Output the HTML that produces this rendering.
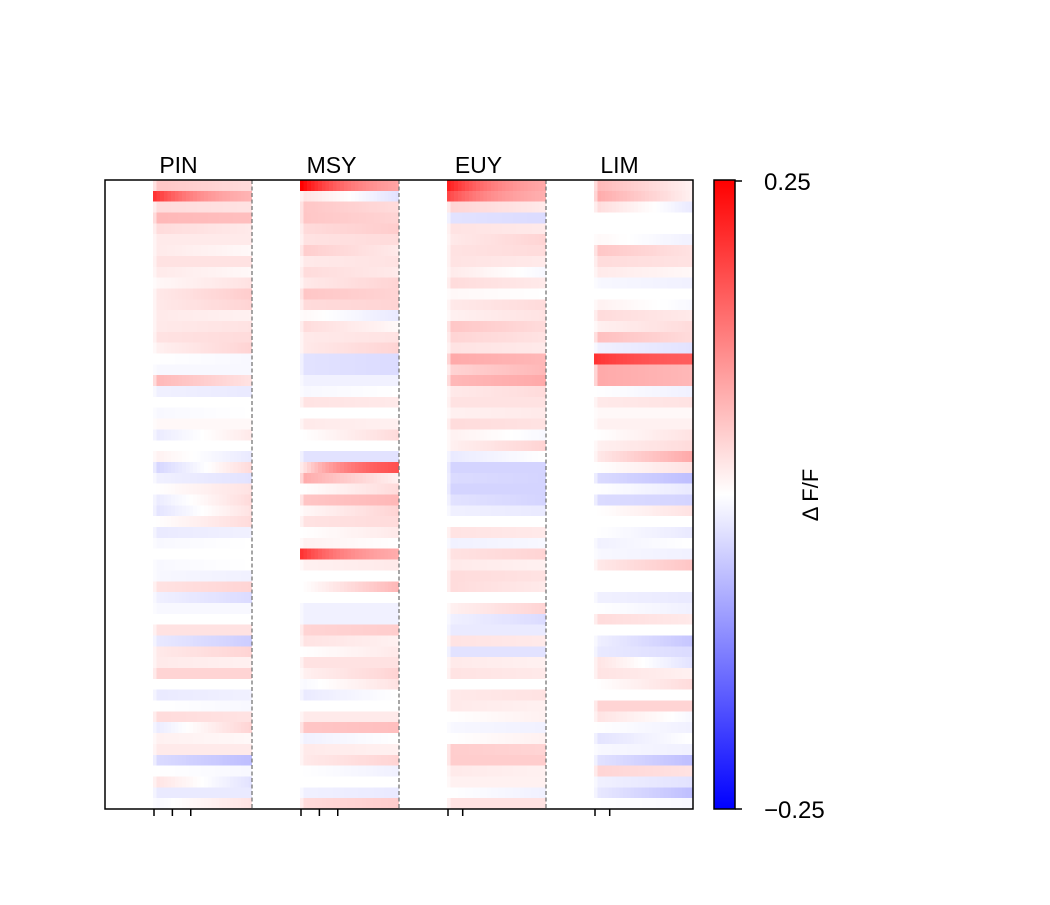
<!DOCTYPE html>
<html><head><meta charset="utf-8"><style>
body{margin:0;background:#fff;}
svg text{font-family:"Liberation Sans",Arial,sans-serif;}
</style></head><body>
<svg id="chart" width="1050" height="900" viewBox="0 0 1050 900">
<defs>
<linearGradient id="cbar" x1="0" y1="1" x2="0" y2="0">
<stop offset="0" stop-color="#0000ff"/><stop offset="0.5" stop-color="#ffffff"/><stop offset="1" stop-color="#ff0000"/>
</linearGradient>
</defs>
<g id="cells" shape-rendering="crispEdges"></g>
<g id="overlay"></g>
<rect x="105" y="180" width="588" height="629" fill="none" stroke="#000" stroke-width="1.5"/>
<rect x="714" y="180" width="21" height="629" fill="url(#cbar)" stroke="#000" stroke-width="1.5"/>
<line x1="735" y1="181" x2="742" y2="181" stroke="#000" stroke-width="1.5"/>
<line x1="735" y1="809" x2="742" y2="809" stroke="#000" stroke-width="1.5"/>
<text x="764" y="190" font-size="24">0.25</text>
<text x="764" y="818" font-size="24">−0.25</text>
<text transform="translate(818,495) rotate(-90)" text-anchor="middle" font-size="22">Δ F/F</text>
</svg>
<script>
const panels = ["PIN","MSY","EUY","LIM"];
const titleOffsets = [0, 6, 6, 0];
const onsetTicks = [[0,5,10],[0,5,10],[0,4],[0,4]];
const rowsPIN = [[0.08,0.05],[0.2,0.05],[0.05,0.04],[0.1,0.09],[0.05,0.03],[0.03,0.03],[0.03,0.01],[0.04,0.04],[0.03,0.01],[0.01,0.04],[0.03,0.07],[0.03,0.06],[0.03,0.02],[0.03,0.04],[0.04,0.05],[0.02,0.06],[0,-0.01],[-0.01,-0.01],[0.1,0.04],[-0.02,-0.03],[0,0],[-0.01,0],[0.01,0.01],[-0.03,0.03],[0,0],[0.02,-0.03],[-0.06,0.05],[-0.02,-0.04],[0,0.04],[-0.03,0.05],[-0.04,0.04],[0,0.05],[-0.03,-0.02],[-0.01,0],[0,0],[-0.01,0],[-0.01,-0.02],[0.04,0.06],[-0.02,-0.05],[-0.01,-0.01],[0,0],[0.04,0.04],[-0.03,-0.07],[0.03,0.06],[0.03,0.02],[0.06,0.06],[0,0],[-0.03,-0.02],[0,-0.01],[0.05,0.04],[-0.03,0.06],[0.02,0.01],[0.03,0.03],[-0.05,-0.09],[0,-0.01],[0.04,-0.04],[-0.03,-0.03],[-0.01,0.04]];
const rowsMSY = [[0.25,0.06],[0.04,-0.04],[0.08,0.05],[0.08,0.06],[0.05,0.07],[0.04,0.05],[0.07,0.03],[0.03,0.04],[0.05,0.03],[0.03,0.06],[0.08,0.06],[0.05,0.06],[0.01,-0.03],[0.05,0.01],[0.03,0.04],[0.03,0.06],[-0.04,-0.05],[-0.04,-0.05],[-0.02,-0.02],[-0.01,0],[0.04,0.03],[0,0],[0.03,0.02],[0,0.05],[0,0],[-0.04,-0.04],[0.02,0.2],[0.12,0.02],[0,0.05],[0.08,0.1],[0.01,0.06],[0.04,0.05],[0,0.03],[0.02,0],[0.2,0.06],[0.02,0.03],[0,0],[0,0.1],[0,0],[-0.02,-0.02],[-0.02,-0.02],[0.06,0.07],[0.04,0.02],[0,0.03],[0.04,0.04],[0.02,0.06],[-0.01,0.04],[-0.03,0],[0,0],[0.03,0.03],[0.08,0.09],[-0.02,0],[0.03,0.02],[0.03,0.06],[0,-0.02],[0,0],[-0.02,-0.03],[0.05,0.07]];
const rowsEUY = [[0.22,0.06],[0.18,0.06],[0.06,0.03],[-0.04,-0.05],[0.04,0.03],[0.03,0.06],[0.04,0.05],[0.04,0.03],[0.03,-0.01],[0.05,0.03],[0.01,0],[0.03,0.05],[0.02,0.04],[0.08,0.05],[0.06,0.04],[0.04,0.03],[0.12,0.1],[0.06,0.1],[0.1,0.12],[0.03,0.05],[0.04,0.04],[0.02,0.03],[0.05,0.04],[0.02,-0.01],[0.02,0.06],[-0.03,0],[-0.06,-0.06],[-0.05,-0.06],[-0.06,-0.06],[-0.04,-0.06],[-0.02,-0.03],[0,0],[0.04,0.03],[-0.02,-0.01],[0.04,0.06],[0.03,0.02],[0.05,0.04],[0.05,0.03],[0,0],[0.02,0.06],[-0.02,-0.05],[-0.03,-0.03],[0.04,0.03],[-0.04,-0.04],[0.03,0.02],[0.04,0.03],[0,0],[0.03,0.04],[0.03,0.02],[0,0.02],[-0.01,-0.02],[0,0.02],[0.07,0.06],[0.07,0.07],[0.03,0.02],[0.02,0.02],[0,-0.02],[0.04,0.04]];
const rowsLIM = [[0.1,0.02],[0.12,0.02],[0.05,-0.03],[0,0],[0,0],[0.01,-0.02],[0.08,0.04],[0.05,0.04],[0.03,0.01],[-0.01,-0.02],[0,0],[0.02,-0.01],[0.05,0.03],[0.02,0.05],[0.09,0.05],[-0.02,-0.04],[0.2,0.15],[0.12,0.1],[0.12,0.1],[0,-0.02],[0.03,0.04],[0.01,0.01],[0.02,0.02],[0,0.04],[0.02,0.05],[0.03,0.12],[0,0.04],[-0.05,-0.09],[0,-0.03],[-0.05,-0.06],[0,0.04],[0,0],[0,-0.03],[-0.02,0],[-0.01,-0.02],[0.03,0.08],[0,0],[0,0],[-0.02,-0.03],[0,-0.02],[0.05,0.03],[0,0],[-0.02,-0.08],[-0.03,-0.05],[0.04,-0.04],[0.04,0.02],[0,0.05],[0,0],[0.06,0.06],[0.04,-0.01],[0,-0.02],[-0.04,0],[-0.01,-0.02],[-0.04,-0.09],[0.06,0.04],[-0.02,-0.04],[-0.03,-0.09],[0,-0.01]];
const panelRows = [rowsPIN, rowsMSY, rowsEUY, rowsLIM];
const vmax = 0.25;

const NS = "http://www.w3.org/2000/svg";
const X0 = 105, Y0 = 180, W = 588, H = 629;
const nPanels = panels.length, nCols = 40, onsetCol = 13;
const panelW = W / nPanels, colW = panelW / nCols;
const nRows = rowsPIN.length, rowH = H / nRows;
const displayGain = 0.7;
function xScale(p, c){ return X0 + p*panelW + c*colW; }
function yScale(r){ return Y0 + r*rowH; }
function color(v){
  let t = Math.max(-1, Math.min(1, v / vmax));
  if (t >= 0){ const g = Math.round(255*(1-t)); return `rgb(255,${g},${g})`; }
  const g = Math.round(255*(1+t)); return `rgb(${g},${g},255)`;
}
const cells = document.getElementById("cells");
const overlay = document.getElementById("overlay");
panelRows.forEach((rows, p) => {
  rows.forEach((rv, r) => {
    for (let c = 0; c < nCols; c++){
      let v = 0;
      if (c >= onsetCol){
        const t = (c - onsetCol) / (nCols - 1 - onsetCol);
        const ramp = Math.min(1, (c - onsetCol + 1) / 2);
        v = (rv[0]*(1-t) + rv[1]*t) * ramp * displayGain;
        if (Math.abs(rv[0]) > 0.15 || Math.abs(rv[1]) > 0.15){
          const k = Math.exp(-(c-onsetCol)/14);
          v = rv[0]*k + rv[1]*(1-k);
        }
      }
      const rect = document.createElementNS(NS, "rect");
      rect.setAttribute("x", xScale(p, c).toFixed(2));
      rect.setAttribute("y", yScale(r).toFixed(2));
      rect.setAttribute("width", (colW + 0.6).toFixed(2));
      rect.setAttribute("height", (rowH + 0.6).toFixed(2));
      rect.setAttribute("fill", color(v));
      
      
      cells.appendChild(rect);
    }
  });
});
panels.forEach((name, p) => {
  if (p > 0){
    const ln = document.createElementNS(NS, "line");
    ln.setAttribute("x1", xScale(p, 0)); ln.setAttribute("x2", xScale(p, 0));
    ln.setAttribute("y1", Y0); ln.setAttribute("y2", Y0 + H);
    ln.setAttribute("stroke", "#777"); ln.setAttribute("stroke-width", "1.3");
    ln.setAttribute("stroke-dasharray", "4,2.5");
    
    
    overlay.appendChild(ln);
  }
  const tx = document.createElementNS(NS, "text");
  tx.setAttribute("x", xScale(p, 0) + panelW/2 + titleOffsets[p]);
  tx.setAttribute("y", 173);
  tx.setAttribute("text-anchor", "middle");
  tx.setAttribute("font-size", "23");
  tx.textContent = name;
  
  
  overlay.appendChild(tx);
  onsetTicks[p].forEach(off => {
    const x = xScale(p, 0) + 49 + off*colW;
    const tk = document.createElementNS(NS, "line");
    tk.setAttribute("x1", x); tk.setAttribute("x2", x);
    tk.setAttribute("y1", Y0 + H); tk.setAttribute("y2", Y0 + H + 7);
    tk.setAttribute("stroke", "#000"); tk.setAttribute("stroke-width", "1.5");
    
    
    overlay.appendChild(tk);
  });
});
</script>
</body></html>
